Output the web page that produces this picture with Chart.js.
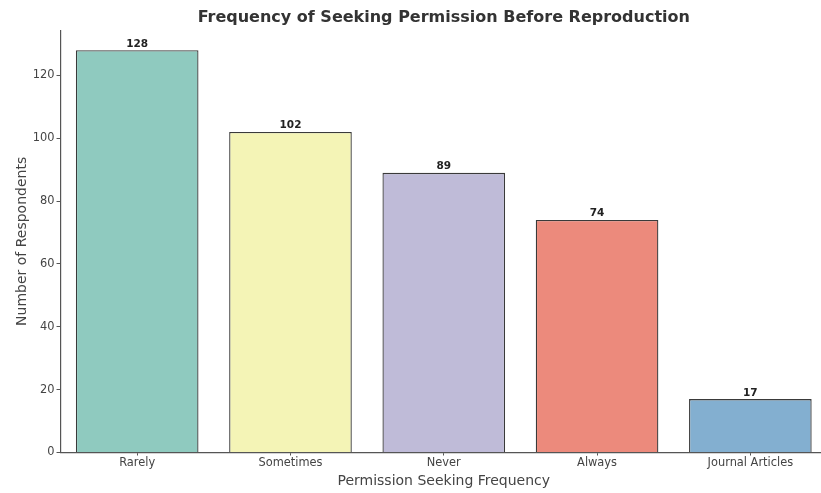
<!DOCTYPE html>
<html>
<head>
<meta charset="utf-8">
<style>
    body { margin: 0; background: #fff; overflow: hidden; }
</style>
</head>
<body>
<canvas id="myChart" width="827" height="493"></canvas>

<script src="https://cdn.jsdelivr.net/npm/chart.js"></script>

<script>

    const categories = ['Rarely', 'Sometimes', 'Never', 'Always', 'Journal Articles'];
    const respondents = [128, 102, 89, 74, 17];
    const yTicks = [0, 20, 40, 60, 80, 100, 120];
    const barColors = ['#8fcabf', '#f4f4b6', '#bfbbd8', '#ec8a7c', '#83afd0'];
    const chartTitle = 'Frequency of Seeking Permission Before Reproduction';

    const fontFamily = "'DejaVu Sans', sans-serif";
    const titleSize = 16;
    const titlePadTop = 8;

    // draws the count above each bar, and the title centred over the plot area
    const valueLabels = {
        id: 'valueLabels',
        afterDatasetsDraw(chart) {
            const c = chart.ctx;
            const meta = chart.getDatasetMeta(0);
            c.save();
            c.font = 'bold 10.5px ' + fontFamily;
            c.fillStyle = '#222';
            c.textAlign = 'center';
            c.textBaseline = 'bottom';
            meta.data.forEach((bar, i) => {
                c.fillText(respondents[i], bar.x, bar.y - 1);
            });

            const area = chart.chartArea;
            const tb = chart.titleBlock;
            c.font = 'bold ' + titleSize + 'px ' + fontFamily;
            c.fillStyle = '#333';
            c.textBaseline = 'middle';
            c.fillText(chartTitle, (area.left + area.right) / 2, tb.top + titlePadTop + titleSize * 0.6);
            c.restore();
        }
    };

    const ctx = document.getElementById('myChart').getContext('2d');

    new Chart(ctx, {
        type: 'bar',
        data: {
            labels: categories,
            datasets: [{
                data: respondents,
                backgroundColor: barColors,
                borderColor: '#3a3a3a',
                borderWidth: 1.3,
                barPercentage: 0.8,
                categoryPercentage: 1.0
            }]
        },
        options: {
            responsive: false,
            animation: false,
            layout: { padding: { left: 14, right: 0, top: 0, bottom: 3 } },
            plugins: {
                legend: { display: false },
                tooltip: { enabled: false },
                title: {
                    // space holder only, text is drawn by valueLabels
                    display: true,
                    text: chartTitle,
                    color: 'rgba(0,0,0,0)',
                    font: { family: fontFamily, size: titleSize, weight: 'bold' },
                    padding: { top: titlePadTop, bottom: 3 }
                }
            },
            scales: {
                x: {
                    offset: true,
                    grid: { display: true, drawOnChartArea: false, offset: false, tickLength: 3, color: '#555' },
                    border: { display: true, color: '#555', width: 1.2 },
                    ticks: { color: '#444', font: { family: fontFamily, size: 11.4 }, padding: 1 },
                    title: {
                        display: true,
                        text: 'Permission Seeking Frequency',
                        color: '#444',
                        font: { family: fontFamily, size: 14 },
                        padding: { top: 2, bottom: 0 }
                    }
                },
                y: {
                    min: 0,
                    max: 134.4,
                    afterBuildTicks: axis => {
                        axis.ticks = yTicks.map(v => ({ value: v }));
                    },
                    grid: { display: true, drawOnChartArea: false, tickLength: 4, color: '#555' },
                    border: { display: true, color: '#555', width: 1.2 },
                    ticks: { color: '#444', font: { family: fontFamily, size: 11.4 }, padding: 2 },
                    title: {
                        display: true,
                        text: 'Number of Respondents',
                        color: '#444',
                        font: { family: fontFamily, size: 14 },
                        padding: { top: 0, bottom: 0 }
                    }
                }
            }
        },
        plugins: [valueLabels]
    });

</script>
</body>
</html>
